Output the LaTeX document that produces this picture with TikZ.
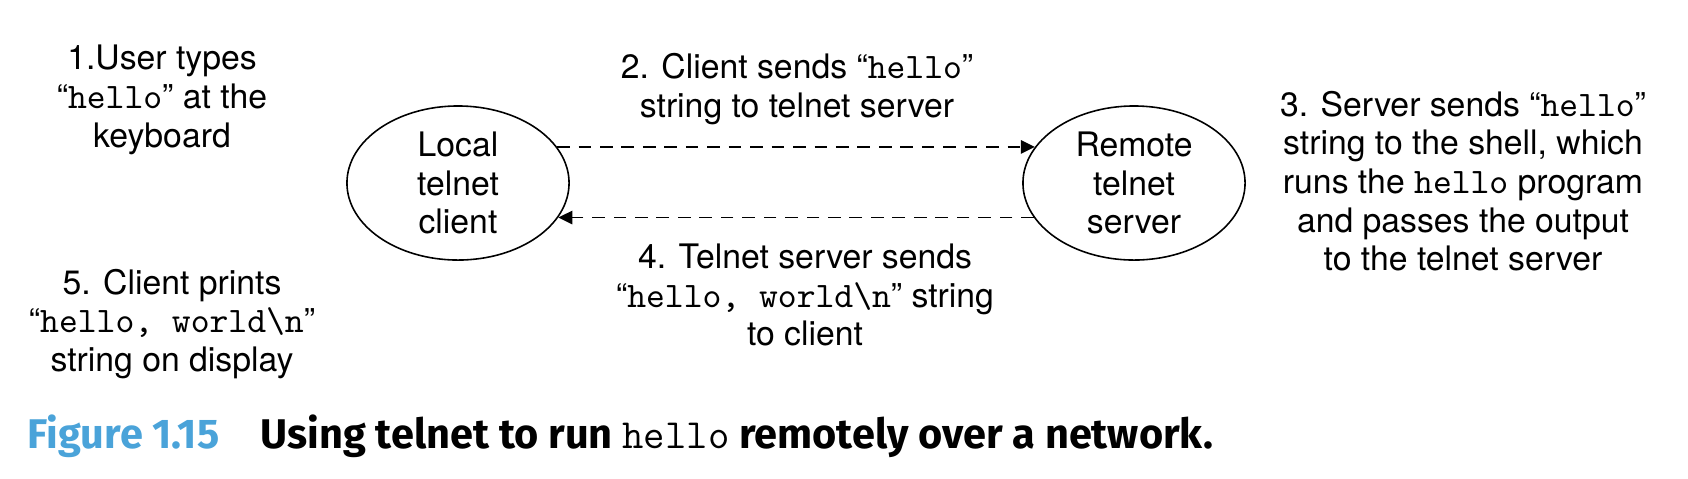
\documentclass[tikz,border=0pt]{standalone}
\usepackage{fontspec}
\setmainfont{TeX Gyre Heros}
\newfontfamily\capfont{Fira Sans}
\usetikzlibrary{arrows.meta,positioning,shapes.geometric}
\definecolor{figblue}{RGB}{74,163,217}
\newcommand{\code}[1]{{\ttfamily\fontsize{10.2}{11}\selectfont #1}}
\begin{document}
\begin{tikzpicture}[x=0.01cm,y=-0.01cm,
  txt/.style={align=center,inner sep=0pt,font=\fontsize{9.6}{11}\selectfont},
  host/.style={txt,draw,ellipse,line width=0.45pt,minimum width=2.22cm,minimum height=1.54cm},
  msg/.style={line width=0.45pt,dash pattern=on 3.6pt off 2.5pt,-{Triangle[length=4pt,width=3.8pt]}},
  captxt/.style={inner sep=0pt,font=\capfont\bfseries\fontsize{11.8}{14}\selectfont}]
\useasboundingbox (0,0) rectangle (1688,478);
\node[txt] (type) at (162,100) {1.User types\\“\code{hello}” at the\\keyboard};
\node[txt] (print) at (172,324) {5. Client prints\\“\code{hello, world\textbackslash n}”\\string on display};
\node[host] (local) at (458,183) {Local\\telnet\\client};
\node[host] (remote) at (1134,183) {Remote\\telnet\\server};
\node[txt] (send) at (797,89) {2. Client sends “\code{hello}”\\string to telnet server};
\node[txt] (reply) at (805,295) {4. Telnet server sends\\“\code{hello, world\textbackslash n}” string\\to client};
\node[txt] (shell) at (1463,181) {3. Server sends “\code{hello}”\\string to the shell, which\\runs the \code{hello} program\\and passes the output\\to the telnet server};
\draw[msg] (local.20) -- (remote.160);
\draw[msg] (remote.-161) -- (local.-19);
\node[captxt,text=figblue,anchor=base west] (fignum) at (27,448) {Figure 1.15};
\node[captxt,base right=0.4cm of fignum] (figtitle) {Using telnet to run {\mdseries\ttfamily hello} remotely over a network.};
\end{tikzpicture}
\end{document}
